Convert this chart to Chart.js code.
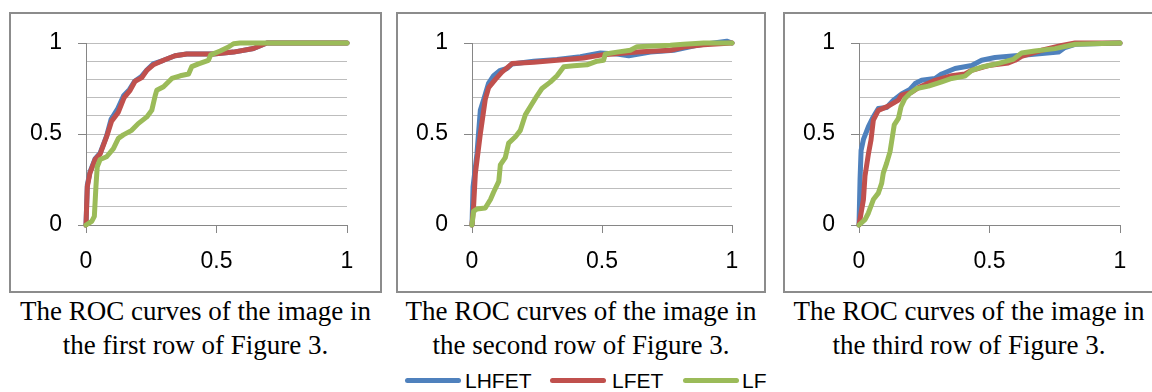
<!DOCTYPE html>
<html>
<head>
<meta charset="utf-8">
<script src="https://cdn.jsdelivr.net/npm/chart.js@4.4.1/dist/chart.umd.min.js"></script>
<style>
html,body{margin:0;padding:0;background:#fff;width:1152px;height:392px;overflow:hidden;position:relative;}
.box{position:absolute;top:12px;height:281px;border:2px solid #8c8c8c;box-sizing:border-box;}
canvas{position:absolute;}
.cap{position:absolute;top:294px;font-family:"Liberation Serif","Times New Roman",serif;font-size:27px;line-height:34px;text-align:center;color:#000;white-space:nowrap;}
.leg{position:absolute;top:369px;font-family:"Liberation Sans",Arial,sans-serif;font-size:21px;line-height:24px;color:#000;white-space:nowrap;}
.sw{position:absolute;top:378px;height:5px;border-radius:3px;}
</style>
</head>
<body>
<div class="box" style="left:9px;width:373px;"></div>
<div class="box" style="left:396px;width:370px;"></div>
<div class="box" style="left:783px;width:372px;"></div>
<canvas id="c1" width="369" height="277" style="left:11px;top:14px;"></canvas>
<canvas id="c2" width="366" height="277" style="left:398px;top:14px;"></canvas>
<canvas id="c3" width="368" height="277" style="left:785px;top:14px;"></canvas>

<div class="cap" style="left:9px;width:373px;">The ROC curves of the image in<br>the first row of Figure 3.</div>
<div class="cap" style="left:396px;width:370px;">The ROC curves of the image in<br>the second row of Figure 3.</div>
<div class="cap" style="left:783px;width:372px;">The ROC curves of the image in<br>the third row of Figure 3.</div>

<div id="legend"></div>

<script>
// ---- data (false positive rate / true positive rate) ----
const seriesNames = ["LHFET", "LFET", "LF"];
const seriesColors = ["#4F81BD", "#C0504D", "#9BBB59"];
const axisTicks = [0, 0.5, 1];

// Panel 1
const roc1_LHFET_fpr = [0,0.005,0.015,0.035,0.054,0.079,0.096,0.12,0.144,0.167,0.186,0.212,0.232,0.257,0.297,0.341,0.386,0.488,0.565,0.642,0.693,1];
const roc1_LHFET_tpr = [0,0.22,0.29,0.365,0.395,0.49,0.58,0.635,0.71,0.745,0.79,0.815,0.85,0.885,0.905,0.93,0.94,0.94,0.95,0.97,1,1];
const roc1_LFET_fpr  = [0,0.005,0.015,0.035,0.054,0.079,0.098,0.124,0.146,0.169,0.188,0.214,0.233,0.258,0.297,0.341,0.386,0.488,0.565,0.642,0.693,1];
const roc1_LFET_tpr  = [0,0.21,0.285,0.36,0.39,0.485,0.57,0.62,0.70,0.74,0.79,0.81,0.85,0.88,0.905,0.93,0.94,0.94,0.95,0.97,1,1];
const roc1_LF_fpr    = [0,0.022,0.032,0.038,0.043,0.054,0.079,0.105,0.124,0.143,0.175,0.2,0.233,0.252,0.265,0.271,0.297,0.329,0.361,0.393,0.405,0.431,0.469,0.478,0.514,0.546,0.565,0.59,1];
const roc1_LF_tpr    = [0,0.02,0.047,0.21,0.32,0.36,0.375,0.42,0.476,0.495,0.52,0.557,0.594,0.63,0.71,0.74,0.76,0.805,0.82,0.83,0.87,0.885,0.905,0.935,0.956,0.978,0.996,1,1];

// Panel 2
const roc2_LHFET_fpr = [0,0.004,0.019,0.032,0.045,0.064,0.083,0.109,0.135,0.154,0.237,0.327,0.417,0.494,0.558,0.603,0.686,0.776,0.865,0.98,1];
const roc2_LHFET_tpr = [0,0.21,0.39,0.63,0.69,0.78,0.82,0.85,0.86,0.885,0.9,0.91,0.925,0.945,0.94,0.93,0.95,0.96,0.988,1.01,1];
const roc2_LFET_fpr  = [0,0.006,0.013,0.032,0.051,0.064,0.09,0.115,0.154,0.237,0.327,0.429,0.506,0.635,0.763,0.814,0.891,1];
const roc2_LFET_tpr  = [0,0.1,0.285,0.5,0.69,0.755,0.80,0.84,0.887,0.894,0.905,0.918,0.936,0.95,0.96,0.978,0.99,1];
const roc2_LF_fpr    = [0,0.006,0.019,0.051,0.071,0.083,0.103,0.109,0.128,0.141,0.167,0.186,0.205,0.224,0.25,0.269,0.301,0.327,0.353,0.391,0.442,0.481,0.506,0.513,0.558,0.609,0.635,0.763,0.814,0.891,1];
const roc2_LF_tpr    = [0,0.075,0.088,0.093,0.14,0.18,0.24,0.33,0.37,0.45,0.485,0.52,0.605,0.65,0.71,0.75,0.785,0.82,0.87,0.875,0.88,0.9,0.905,0.94,0.95,0.96,0.98,0.987,0.993,1,1];

// Panel 3
const roc3_LHFET_fpr = [0,0.004,0.008,0.017,0.036,0.055,0.074,0.106,0.132,0.163,0.195,0.215,0.24,0.291,0.317,0.368,0.432,0.47,0.521,0.598,0.649,0.764,0.789,0.828,1];
const roc3_LHFET_tpr = [0,0.25,0.41,0.47,0.54,0.595,0.64,0.646,0.686,0.72,0.745,0.777,0.795,0.805,0.83,0.86,0.876,0.905,0.92,0.93,0.936,0.95,0.975,0.993,1];
const roc3_LFET_fpr  = [0,0.008,0.017,0.023,0.036,0.046,0.055,0.074,0.112,0.151,0.163,0.202,0.234,0.291,0.355,0.406,0.432,0.496,0.572,0.598,0.623,0.7,0.777,0.828,1];
const roc3_LFET_tpr  = [0,0.066,0.14,0.27,0.39,0.467,0.577,0.63,0.653,0.686,0.714,0.73,0.76,0.795,0.82,0.83,0.85,0.876,0.89,0.905,0.927,0.96,0.987,1,1];
const roc3_LF_fpr    = [0,0.023,0.036,0.055,0.074,0.087,0.093,0.106,0.119,0.128,0.135,0.151,0.161,0.176,0.195,0.221,0.266,0.317,0.355,0.406,0.432,0.47,0.521,0.591,0.623,0.674,0.751,0.828,1];
const roc3_LF_tpr    = [0,0.03,0.066,0.14,0.175,0.23,0.285,0.34,0.403,0.485,0.55,0.586,0.65,0.695,0.723,0.75,0.763,0.787,0.805,0.818,0.85,0.868,0.883,0.91,0.945,0.956,0.969,0.993,1];

// ---- chart construction ----
Chart.defaults.font.family = '"Liberation Sans", Arial, sans-serif';

const isMajor = v => axisTicks.some(t => Math.abs(t - v) < 1e-9);
const fmt = v => String(Math.round(v * 10) / 10);

function ds(idx, fpr, tpr) {
  return {
    label: seriesNames[idx],
    data: fpr.map((x, i) => ({ x: x, y: tpr[i] })),
    showLine: true,
    borderColor: seriesColors[idx],
    backgroundColor: seriesColors[idx],
    borderWidth: 5,
    pointRadius: 0,
    pointHoverRadius: 0,
    borderJoinStyle: 'round',
    borderCapStyle: 'round',
    tension: 0,
    clip: false,
    order: 3 - idx
  };
}

function makeChart(id, yW, padRight, sets) {
  return new Chart(document.getElementById(id), {
    type: 'scatter',
    data: { datasets: sets },
    options: {
      responsive: false,
      animation: false,
      events: [],
      layout: { padding: { top: 29, right: padRight, bottom: 0, left: 0 } },
      plugins: { legend: { display: false }, tooltip: { enabled: false } },
      scales: {
        x: {
          type: 'linear', min: 0, max: 1,
          afterFit(s) { s.height = 66; s.paddingLeft = 0; s.paddingRight = 0; },
          ticks: { stepSize: 0.5, autoSkip: false, maxRotation: 0, padding: 15, color: '#000', font: { size: 23 },
                   callback: v => fmt(v) },
          grid: { drawOnChartArea: false, tickLength: 8, color: '#868686' },
          border: { display: true, color: '#868686', width: 1 }
        },
        y: {
          type: 'linear', min: 0, max: 1,
          afterFit(s) { s.width = yW; s.paddingTop = 0; s.paddingBottom = 0; },
          ticks: {
            stepSize: 0.1, autoSkip: false, padding: 16, color: '#000', font: { size: 23 },
            callback: v => isMajor(v) ? fmt(v) : ''
          },
          grid: {
            tickLength: 8,
            color: c => (c.tick && Math.abs(c.tick.value) < 1e-9) ? '#868686' : '#bdbdbd',
            tickColor: c => (c.tick && isMajor(c.tick.value)) ? '#868686' : 'rgba(0,0,0,0)'
          },
          border: { display: true, color: '#868686', width: 1 }
        }
      }
    }
  });
}

makeChart('c1', 75, 33, [
  ds(0, roc1_LHFET_fpr, roc1_LHFET_tpr),
  ds(1, roc1_LFET_fpr, roc1_LFET_tpr),
  ds(2, roc1_LF_fpr, roc1_LF_tpr)
]);
makeChart('c2', 74, 32, [
  ds(0, roc2_LHFET_fpr, roc2_LHFET_tpr),
  ds(1, roc2_LFET_fpr, roc2_LFET_tpr),
  ds(2, roc2_LF_fpr, roc2_LF_tpr)
]);
makeChart('c3', 74, 33, [
  ds(0, roc3_LHFET_fpr, roc3_LHFET_tpr),
  ds(1, roc3_LFET_fpr, roc3_LFET_tpr),
  ds(2, roc3_LF_fpr, roc3_LF_tpr)
]);

// ---- shared legend ----
const legendLayout = [{ sw: 405, tx: 465 }, { sw: 550, tx: 612 }, { sw: 683, tx: 742 }];
const legendEl = document.getElementById('legend');
seriesNames.forEach((name, i) => {
  const sw = document.createElement('div');
  sw.className = 'sw';
  sw.style.left = legendLayout[i].sw + 'px';
  sw.style.width = '56px';
  sw.style.background = seriesColors[i];
  legendEl.appendChild(sw);
  const tx = document.createElement('div');
  tx.className = 'leg';
  tx.style.left = legendLayout[i].tx + 'px';
  tx.textContent = name;
  legendEl.appendChild(tx);
});
</script>
</body>
</html>
